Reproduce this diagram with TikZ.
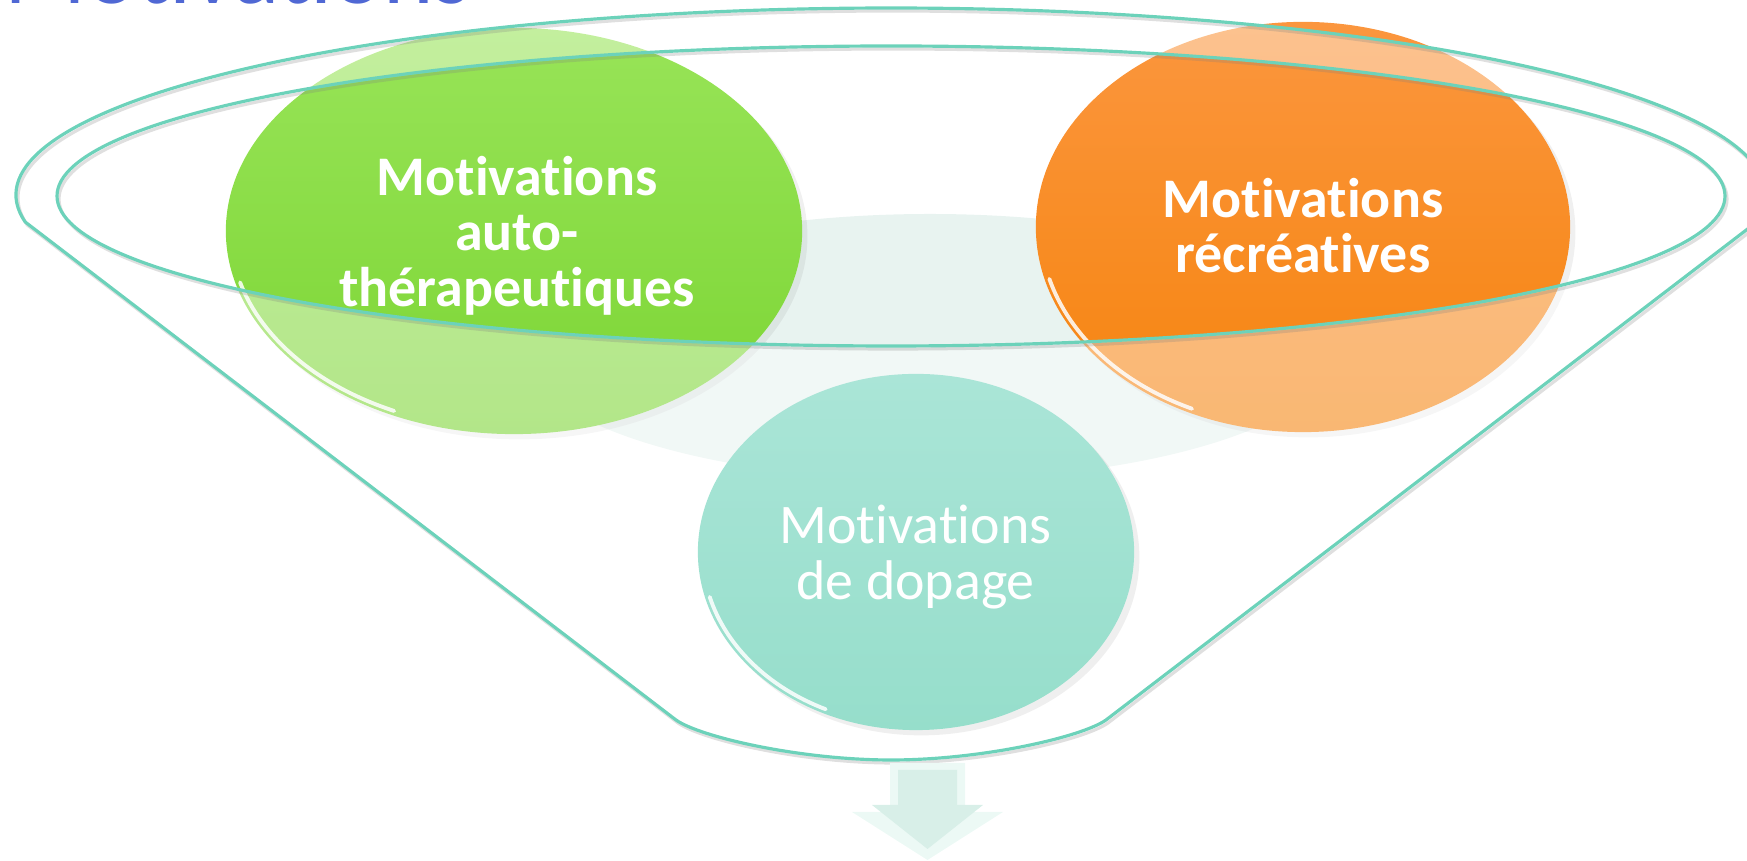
\documentclass[tikz,border=0pt]{standalone}
\usepackage{fontspec}
\setmainfont{Carlito}[Ligatures={NoCommon}]
\usepackage{xcolor}
\usepackage{tikz}
\usetikzlibrary{shapes,shadows,calc}
\definecolor{rim}{RGB}{108, 210, 186}
\definecolor{mist}{RGB}{232, 243, 240}
\definecolor{leaf}{RGB}{152, 228, 88}
\definecolor{leafdark}{RGB}{124, 213, 52}
\definecolor{ember}{RGB}{251, 150, 62}
\definecolor{emberdark}{RGB}{246, 132, 14}
\definecolor{lagoon}{RGB}{170, 229, 215}
\definecolor{lagoondark}{RGB}{150, 222, 203}
\definecolor{ink}{RGB}{80, 104, 212}
\definecolor{spout}{RGB}{216, 239, 232}
\definecolor{spoutedge}{RGB}{236, 249, 245}

\begin{document}
\begin{tikzpicture}[x=0.01cm, y=0.01cm,
    bulle/.style={ellipse, inner sep=0pt,
        drop shadow={opacity=0.12, shadow xshift=1.5pt, shadow yshift=-1.5pt},
        path picture={\draw[white, opacity=0.85, line width=1.1pt, line cap=round]
            let \p1=(path picture bounding box.north east),
                \p2=(path picture bounding box.south west),
                \n1={(\x1-\x2)/2-1.3pt}, \n2={(\y1-\y2)/2-1.3pt} in
            (path picture bounding box.center) ++(195:\n1 and \n2)
            arc[start angle=195, end angle=245, x radius=\n1, y radius=\n2];}},
    etiquette/.style={text=white, align=center, inner sep=0pt,
        font=\fontsize{15.9pt}{15.8pt}\selectfont},
    etiquettegras/.style={etiquette,
        font=\fontsize{15.9pt}{15.8pt}\selectfont\bfseries}]
    \useasboundingbox (0,0) rectangle (1747,861);

    % Title, cut by the top edge
    \node[anchor=base west, text=ink, inner sep=0pt,
          font=\fontsize{27.3pt}{30pt}\selectfont] (titre) at (4,857) {Motivations};

    % Glow behind the bubbles
    \fill[mist] (930,514) ellipse [x radius=410, y radius=133];

    % Bubbles held in the funnel
    \node[bulle, minimum width=5.76cm, minimum height=4.06cm,
          top color=leaf, bottom color=leafdark] (auto) at (514,630) {};
    \node[bulle, minimum width=5.34cm, minimum height=4.10cm,
          top color=ember, bottom color=emberdark] (loisir) at (1303,634) {};

    % Glass of the funnel
    \path[fill=white, fill opacity=0.42, even odd rule]
        (25.2,639) arc[start angle=188.3, end angle=-8.3, x radius=875, y radius=187]
        -- (1106,141) .. controls (1082,124) and (982,101) .. (891,101)
        .. controls (800,101) and (700,124) .. (676,141) -- cycle
        (891,665) ellipse [x radius=834, y radius=150];

    % Outline, first its shadow
    \foreach \dx/\dy/\teinte/\op in {2/-3/gray/0.25, 0/0/rim/1} {
        \begin{scope}[shift={(\dx,\dy)}]
            \draw[\teinte, opacity=\op, line width=0.9pt, line join=round]
                (25.2,639) arc[start angle=188.3, end angle=-8.3, x radius=875, y radius=187]
                -- (1106,141) .. controls (1082,124) and (982,101) .. (891,101)
                .. controls (800,101) and (700,124) .. (676,141) -- cycle;
            \draw[\teinte, opacity=\op, line width=0.9pt]
                (891,665) ellipse [x radius=834, y radius=150];
        \end{scope}
    }

    % Bubble in front
    \node[bulle, minimum width=4.36cm, minimum height=3.56cm,
          top color=lagoon, bottom color=lagoondark] (dopage) at (916,309) {};

    % Arrow out of the spout
    \fill[spoutedge] (890,98) -- (965,98) -- (965,49) -- (1003,49) -- (927.5,1)
        -- (852,49) -- (890,49) -- cycle;
    \fill[spout] (898,91) -- (957,91) -- (957,56) -- (983,56) -- (927.5,12)
        -- (872,56) -- (898,56) -- cycle;

    % Labels
    \node[etiquettegras] (tauto) at (517,625.5) {Motivations\\auto-\\thérapeutiques};
    \node[etiquettegras] (tloisir) at (1303,635.5) {Motivations\\récréatives};
    \node[etiquette] (tdopage) at (915.5,304) {Motivations\\de dopage};
\end{tikzpicture}
\end{document}
